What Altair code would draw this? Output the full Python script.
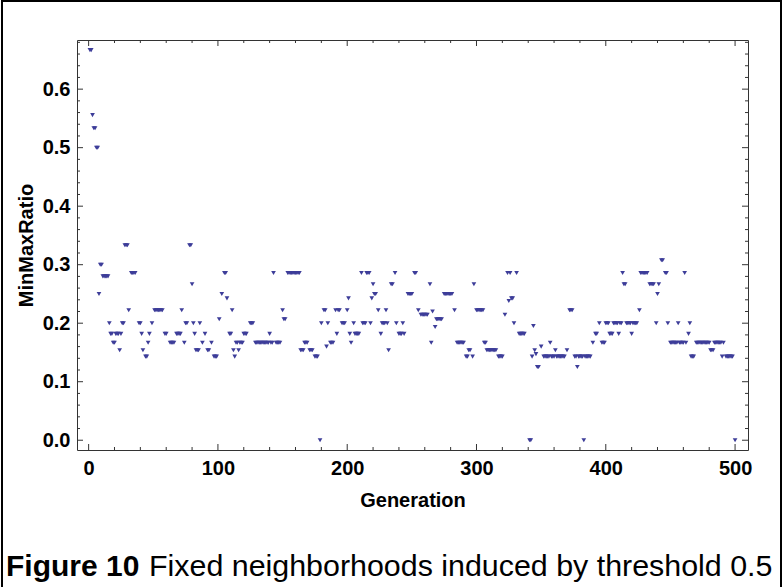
import altair as alt
import pandas as pd

# MinMaxRatio per generation, stored as runs of consecutive generations
# that share the same value: (run_start, run_end, run_value)
run_start = [1, 3, 4, 6, 8, 9, 11, 16, 17, 19, 21, 24, 25, 26, 28, 31, 33, 39, 41, 42,
             44, 46, 47, 49, 51, 59, 63, 68, 72, 74, 75, 78, 80, 81, 82, 83, 86, 88, 90, 92,
             95, 97, 101, 103, 105, 107, 109, 111, 112, 113, 114, 116, 117, 120, 125, 129, 140, 141, 143, 145,
             150, 151, 154, 164, 167, 171, 175, 179, 180, 182, 184, 185, 187, 191, 192, 193, 196, 200, 201, 202,
             203, 205, 206, 211, 212, 215, 218, 219, 220, 221, 224, 226, 227, 230, 231, 232, 234, 237, 238, 240,
             243, 244, 247, 252, 255, 257, 264, 265, 266, 268, 269, 275, 283, 285, 292, 294, 297, 298, 300, 306,
             308, 317, 322, 324, 325, 326, 327, 329, 331, 333, 341, 343, 344, 345, 346, 347, 350, 352, 357, 358,
             361, 362, 370, 372, 376, 378, 379, 383, 384, 390, 392, 395, 397, 400, 403, 406, 410, 411, 413, 414,
             416, 420, 421, 426, 427, 434, 439, 440, 441, 443, 446, 448, 450, 456, 457, 461, 462, 464, 465, 466,
             470, 481, 484, 490, 491, 493, 500]
run_end = [2, 3, 5, 7, 8, 10, 15, 16, 18, 20, 23, 24, 25, 27, 30, 31, 36, 40, 41, 42,
           45, 46, 47, 49, 57, 60, 66, 71, 72, 74, 76, 79, 80, 81, 82, 85, 86, 88, 90, 93,
           95, 99, 101, 103, 106, 107, 110, 111, 112, 113, 115, 116, 119, 122, 127, 139, 140, 142, 143, 148,
           150, 152, 163, 166, 169, 173, 177, 179, 180, 183, 184, 185, 189, 191, 192, 194, 198, 200, 201, 202,
           203, 205, 209, 211, 214, 217, 218, 219, 220, 222, 224, 226, 229, 230, 231, 232, 235, 237, 238, 242,
           243, 244, 250, 253, 255, 262, 264, 265, 266, 268, 273, 281, 283, 290, 293, 295, 297, 298, 305, 307,
           315, 320, 322, 324, 325, 326, 328, 329, 331, 337, 342, 343, 344, 345, 346, 348, 350, 356, 357, 360,
           361, 368, 370, 374, 377, 378, 382, 383, 388, 390, 393, 395, 399, 402, 405, 409, 410, 412, 413, 415,
           419, 420, 424, 426, 432, 437, 439, 440, 441, 444, 447, 448, 455, 456, 460, 461, 462, 464, 465, 468,
           480, 483, 489, 490, 491, 498, 500]
run_value = [0.6667, 0.5556, 0.5333, 0.5, 0.25, 0.3, 0.28, 0.2, 0.1818, 0.1667, 0.1818, 0.1538, 0.1818, 0.2, 0.3333, 0.2222, 0.2857, 0.2, 0.1818, 0.1538,
             0.1429, 0.1667, 0.1818, 0.2, 0.2222, 0.1818, 0.1667, 0.1818, 0.2222, 0.1667, 0.2, 0.3333, 0.2667, 0.2, 0.1818, 0.1538, 0.2, 0.1667, 0.1818, 0.1538,
             0.1667, 0.1429, 0.2069, 0.25, 0.2857, 0.2424, 0.1818, 0.2222, 0.1538, 0.1429, 0.1667, 0.1538, 0.1667, 0.1818, 0.2, 0.1667, 0.1818, 0.1667, 0.2857, 0.1667,
             0.2222, 0.2069, 0.2857, 0.1538, 0.1667, 0.1538, 0.1429, 0.0, 0.2, 0.2222, 0.16, 0.2, 0.1667, 0.2222, 0.1818, 0.2222, 0.2, 0.2222, 0.2424, 0.1818,
             0.1667, 0.2, 0.1818, 0.2857, 0.2, 0.2857, 0.2, 0.2424, 0.2667, 0.25, 0.2222, 0.1818, 0.2, 0.2222, 0.2, 0.1538, 0.2667, 0.2857, 0.2, 0.1818,
             0.2, 0.1818, 0.25, 0.2857, 0.2222, 0.2143, 0.2667, 0.1667, 0.22, 0.1935, 0.2069, 0.25, 0.2222, 0.1667, 0.1429, 0.1538, 0.1429, 0.2667, 0.2222, 0.1667,
             0.1538, 0.1429, 0.2143, 0.2857, 0.2381, 0.2857, 0.2424, 0.2, 0.2857, 0.1818, 0.0, 0.1429, 0.1951, 0.1538, 0.1471, 0.125, 0.16, 0.1429, 0.1667, 0.1429,
             0.1538, 0.1429, 0.1538, 0.2222, 0.1429, 0.125, 0.1429, 0.0, 0.1429, 0.1667, 0.1818, 0.2, 0.1667, 0.2, 0.1818, 0.2, 0.1818, 0.2, 0.2857, 0.2667,
             0.2, 0.1818, 0.2, 0.2222, 0.2857, 0.2667, 0.2, 0.25, 0.2667, 0.3077, 0.2857, 0.2, 0.1667, 0.2, 0.1667, 0.2857, 0.1667, 0.1818, 0.2, 0.1429,
             0.1667, 0.1538, 0.1667, 0.1429, 0.1667, 0.1429, 0.0]

# Frame tick positions
x_major = [0, 100, 200, 300, 400, 500]
x_minor = [g for g in range(20, 510, 20) if g % 100 != 0]
y_major = [0.0, 0.1, 0.2, 0.3, 0.4, 0.5, 0.6]
y_minor = [round(0.02 * k, 2) for k in range(1, 35) if k % 5 != 0]

caption_bold = ["Figure 10"]
caption_text = ["Fixed neighborhoods induced by threshold 0.5"]

gens, vals = [], []
for s, e, v in zip(run_start, run_end, run_value):
    for g in range(s, e + 1):
        gens.append(g)
        vals.append(v)
points = pd.DataFrame({"Generation": gens, "MinMaxRatio": vals})

W, H = 671, 410
FONT = "Liberation Sans"
FRAME = "#333333"
xs = alt.Scale(domain=[-9, 510], nice=False, zero=False)
ys = alt.Scale(domain=[-0.0167, 0.684], nice=False, zero=False)

axis_style = dict(
    ticks=False, domain=False, grid=False,
    labelFont=FONT, labelFontSize=20, labelFontWeight="bold", labelColor="black",
    titleFont=FONT, titleFontSize=20, titleFontWeight="bold", titleColor="black",
    labelFlush=False, labelOverlap=False,
)
x_axis = alt.Axis(values=x_major, format="d", title="Generation",
                  labelPadding=8, titlePadding=12, **axis_style)
y_axis = alt.Axis(values=y_major, format=".1f", title="MinMaxRatio",
                  labelPadding=7, titlePadding=6, **axis_style)


def x_ticks(values, length):
    base = alt.Chart(pd.DataFrame({"t": values})).mark_rule(color=FRAME, strokeWidth=1)
    bottom = base.encode(x=alt.X("t:Q", scale=xs, axis=x_axis), y=alt.value(H), y2=alt.value(H - length))
    top = base.encode(x=alt.X("t:Q", scale=xs, axis=x_axis), y=alt.value(0), y2=alt.value(length))
    return [bottom, top]


def y_ticks(values, length):
    base = alt.Chart(pd.DataFrame({"t": values})).mark_rule(color=FRAME, strokeWidth=1)
    left = base.encode(y=alt.Y("t:Q", scale=ys, axis=y_axis), x=alt.value(0), x2=alt.value(length))
    right = base.encode(y=alt.Y("t:Q", scale=ys, axis=y_axis), x=alt.value(W), x2=alt.value(W - length))
    return [left, right]


pts = alt.Chart(points).mark_point(
    shape="triangle-down", filled=True, size=22, color="#3d3d99", opacity=1, strokeWidth=0
).encode(
    x=alt.X("Generation:Q", scale=xs, axis=x_axis),
    y=alt.Y("MinMaxRatio:Q", scale=ys, axis=y_axis),
)

cap1 = alt.Chart(pd.DataFrame({"c": caption_bold})).mark_text(
    align="left", baseline="alphabetic", font=FONT, fontSize=30, fontWeight="bold", color="black"
).encode(text="c:N", x=alt.value(-71), y=alt.value(536))

cap2 = alt.Chart(pd.DataFrame({"c": caption_text})).mark_text(
    align="left", baseline="alphabetic", font=FONT, fontSize=30.4, color="black"
).encode(text="c:N", x=alt.value(72), y=alt.value(536))

border = alt.Chart(pd.DataFrame({"b": [0]})).mark_rect(
    filled=False, stroke="black", strokeWidth=2
).encode(x=alt.value(-75), x2=alt.value(704), y=alt.value(-39), y2=alt.value(600))

layers = (x_ticks(x_major, 6) + x_ticks(x_minor, 3) + y_ticks(y_major, 6) + y_ticks(y_minor, 3)
          + [pts, cap1, cap2, border])

chart = alt.layer(*layers).properties(
    width=W, height=H,
    padding={"left": 77, "top": 40, "right": 36, "bottom": 137},
    autosize=alt.AutoSizeParams(type="none"),
).configure_view(stroke=FRAME, strokeWidth=1)

chart.save("out.html", embed_options={"renderer": "svg", "actions": False})
